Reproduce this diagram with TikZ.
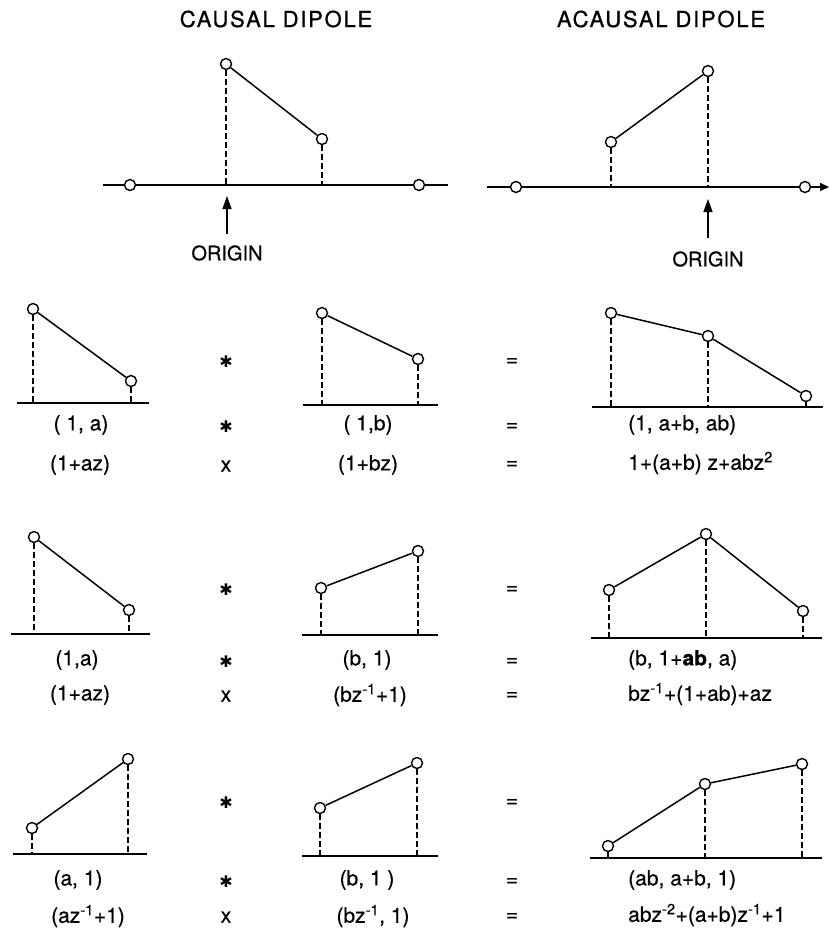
\documentclass[tikz,border=0pt]{standalone}
\usepackage{fontspec}
\setmainfont{TeX Gyre Heros}
\newfontfamily\titlefont[LetterSpace=8,FakeBold=0.8]{TeX Gyre Heros}
\newfontfamily\labelfont[FakeBold=0.5]{TeX Gyre Heros}
\newfontfamily\symfont{DejaVu Sans}
\usepackage{tikz}
\usetikzlibrary{
  arrows.meta,
  positioning,
  calc
}
\tikzset{
  tap/.style={circle,draw,fill=white,line width=1.4pt,minimum size=11pt,inner sep=0pt},
  stem/.style={line width=1.4pt,dash pattern=on 6pt off 3pt},
  seg/.style={line width=1.5pt},
  base/.style={line width=2pt},
  ptr/.style={line width=1.5pt,-{Triangle[length=13pt,width=9pt]}},
  ttl/.style={font=\titlefont\fontsize{22}{26}\selectfont},
  orig/.style={font=\labelfont\fontsize{20}{23}\selectfont},
  lbl/.style={font=\labelfont\fontsize{21}{25}\selectfont,inner sep=0pt},
  op/.style={font=\labelfont\fontsize{21}{25}\selectfont,inner sep=0pt},
  star/.style={font=\symfont\fontsize{16}{18}\selectfont,inner sep=0pt}
}

\begin{document}
\begin{tikzpicture}[x=1pt,y=-1pt]
  \useasboundingbox (0,0) rectangle (829,930);
  % Titles
  \node[ttl] (tcausal) at (276,19) {CAUSAL DIPOLE};
  \node[ttl] (tacausal) at (661,19) {ACAUSAL DIPOLE};

  % Causal dipole
  \coordinate (cl) at (103,185);
  \coordinate (cr) at (448,185);
  \node[tap] (cz1) at (130,185) {};
  \node[tap] (cz2) at (419,185) {};
  \draw[base] (cl) -- (cz1) -- (cz2) -- (cr);
  \node[tap] (cp1) at (226,64) {};
  \node[tap] (cp2) at (322,139) {};
  \draw[seg] (cp1) -- (cp2);
  \draw[stem] (cp1) -- (cp1 |- cl);
  \draw[stem] (cp2) -- (cp2 |- cl);
  \node[orig] (corig) at (227,253) {ORIGIN};
  \coordinate (ctail) at (227,234);
  \coordinate (ctip) at (227,196);
  \draw[ptr] (ctail) -- (ctip);

  % Acausal dipole
  \coordinate (al) at (487,187);
  \coordinate (ar) at (829,187);
  \node[tap] (az1) at (516,187) {};
  \node[tap] (az2) at (805,187) {};
  \draw[base] (al) -- (az1) -- (az2);
  \draw[base,-{Triangle[length=9pt,width=8pt]}] (az2) -- (ar);
  \node[tap] (ap1) at (611,142) {};
  \node[tap] (ap2) at (708,71) {};
  \draw[seg] (ap1) -- (ap2);
  \draw[stem] (ap1) -- (ap1 |- al);
  \draw[stem] (ap2) -- (ap2 |- al);
  \node[orig] (aorig) at (708,259) {ORIGIN};
  \coordinate (atail) at (708,238);
  \coordinate (atip) at (708,199);
  \draw[ptr] (atail) -- (atip);

  % Row 1: (1,a) * (1,b)
  \draw[base] (17,403) coordinate (r1al) -- (149,403);
  \node[tap] (r1a1) at (33,309) {};
  \node[tap] (r1a2) at (131,381) {};
  \draw[seg] (r1a1) -- (r1a2);
  \draw[stem] (r1a1) -- (r1a1 |- r1al);
  \draw[stem] (r1a2) -- (r1a2 |- r1al);
  \draw[base] (303,405) coordinate (r1bl) -- (438,405);
  \node[tap] (r1b1) at (322,313) {};
  \node[tap] (r1b2) at (418,359) {};
  \draw[seg] (r1b1) -- (r1b2);
  \draw[stem] (r1b1) -- (r1b1 |- r1bl);
  \draw[stem] (r1b2) -- (r1b2 |- r1bl);
  \draw[base] (592,407) coordinate (r1cl) -- (823,407);
  \node[tap] (r1c1) at (611,313) {};
  \node[tap] (r1c2) at (708,336) {};
  \node[tap] (r1c3) at (806,396) {};
  \draw[seg] (r1c1) -- (r1c2) -- (r1c3);
  \draw[stem] (r1c1) -- (r1c1 |- r1cl);
  \draw[stem] (r1c2) -- (r1c2 |- r1cl);
  \draw[stem] (r1c3) -- (r1c3 |- r1cl);
  \node[star] (r1s0) at (226,362) {✱};
  \node[op] (r1e0) at (512,362) {=};
  \node[lbl] (r1la) at (81,425) {( 1, a)};
  \node[star] (r1s1) at (226,427) {✱};
  \node[lbl] (r1lb) at (368,425) {( 1,b)};
  \node[op] (r1e1) at (512,427) {=};
  \node[lbl,anchor=west] (r1lc) at (628,425) {(1, a+b, ab)};
  \node[lbl] (r1pa) at (80,465) {(1+az)};
  \node[op] (r1x) at (226,466) {x};
  \node[lbl] (r1pb) at (368,465) {(1+bz)};
  \node[op] (r1e2) at (512,465) {=};
  \node[lbl,anchor=west] (r1pc) at (628,463) {1+(a+b) z+abz\textsuperscript{2}};

  % Row 2: (1,a) * (b,1)
  \draw[base] (11,634) coordinate (r2al) -- (150,634);
  \node[tap] (r2a1) at (34,537) {};
  \node[tap] (r2a2) at (129,610) {};
  \draw[seg] (r2a1) -- (r2a2);
  \draw[stem] (r2a1) -- (r2a1 |- r2al);
  \draw[stem] (r2a2) -- (r2a2 |- r2al);
  \draw[base] (302,635) coordinate (r2bl) -- (438,635);
  \node[tap] (r2b1) at (321,588) {};
  \node[tap] (r2b2) at (418,551) {};
  \draw[seg] (r2b1) -- (r2b2);
  \draw[stem] (r2b1) -- (r2b1 |- r2bl);
  \draw[stem] (r2b2) -- (r2b2 |- r2bl);
  \draw[base] (591,638) coordinate (r2cl) -- (822,638);
  \node[tap] (r2c1) at (609,590) {};
  \node[tap] (r2c2) at (706,534) {};
  \node[tap] (r2c3) at (803,611) {};
  \draw[seg] (r2c1) -- (r2c2) -- (r2c3);
  \draw[stem] (r2c1) -- (r2c1 |- r2cl);
  \draw[stem] (r2c2) -- (r2c2 |- r2cl);
  \draw[stem] (r2c3) -- (r2c3 |- r2cl);
  \node[star] (r2s0) at (226,590) {✱};
  \node[op] (r2e0) at (512,590) {=};
  \node[lbl] (r2la) at (77,660) {(1,a)};
  \node[star] (r2s1) at (226,662) {✱};
  \node[lbl] (r2lb) at (367,660) {(b, 1)};
  \node[op] (r2e1) at (512,662) {=};
  \node[lbl,anchor=west] (r2lc) at (628,660) {(b, 1+\textbf{ab}, a)};
  \node[lbl] (r2pa) at (80,695) {(1+az)};
  \node[op] (r2x) at (226,696) {x};
  \node[lbl] (r2pb) at (370,695) {(bz\textsuperscript{-1}+1)};
  \node[op] (r2e2) at (512,696) {=};
  \node[lbl,anchor=west] (r2pc) at (628,694) {bz\textsuperscript{-1}+(1+ab)+az};

  % Row 3: (a,1) * (b,1)
  \draw[base] (13,854) coordinate (r3al) -- (147,854);
  \node[tap] (r3a1) at (32,828) {};
  \node[tap] (r3a2) at (128,759) {};
  \draw[seg] (r3a1) -- (r3a2);
  \draw[stem] (r3a1) -- (r3a1 |- r3al);
  \draw[stem] (r3a2) -- (r3a2 |- r3al);
  \draw[base] (302,856) coordinate (r3bl) -- (438,856);
  \node[tap] (r3b1) at (320,808) {};
  \node[tap] (r3b2) at (417,763) {};
  \draw[seg] (r3b1) -- (r3b2);
  \draw[stem] (r3b1) -- (r3b1 |- r3bl);
  \draw[stem] (r3b2) -- (r3b2 |- r3bl);
  \draw[base] (590,858) coordinate (r3cl) -- (822,858);
  \node[tap] (r3c1) at (608,846) {};
  \node[tap] (r3c2) at (705,784) {};
  \node[tap] (r3c3) at (802,764) {};
  \draw[seg] (r3c1) -- (r3c2) -- (r3c3);
  \draw[stem] (r3c1) -- (r3c1 |- r3cl);
  \draw[stem] (r3c2) -- (r3c2 |- r3cl);
  \draw[stem] (r3c3) -- (r3c3 |- r3cl);
  \node[star] (r3s0) at (226,803) {✱};
  \node[op] (r3e0) at (512,803) {=};
  \node[lbl] (r3la) at (78,880) {(a, 1)};
  \node[star] (r3s1) at (226,882) {✱};
  \node[lbl] (r3lb) at (367,880) {(b, 1 )};
  \node[op] (r3e1) at (512,882) {=};
  \node[lbl,anchor=west] (r3lc) at (628,880) {(ab, a+b, 1)};
  \node[lbl] (r3pa) at (88,916) {(az\textsuperscript{-1}+1)};
  \node[op] (r3x) at (226,917) {x};
  \node[lbl] (r3pb) at (373,916) {(bz\textsuperscript{-1}, 1)};
  \node[op] (r3e2) at (512,917) {=};
  \node[lbl,anchor=west] (r3pc) at (628,915) {abz\textsuperscript{-2}+(a+b)z\textsuperscript{-1}+1};
\end{tikzpicture}
\end{document}
